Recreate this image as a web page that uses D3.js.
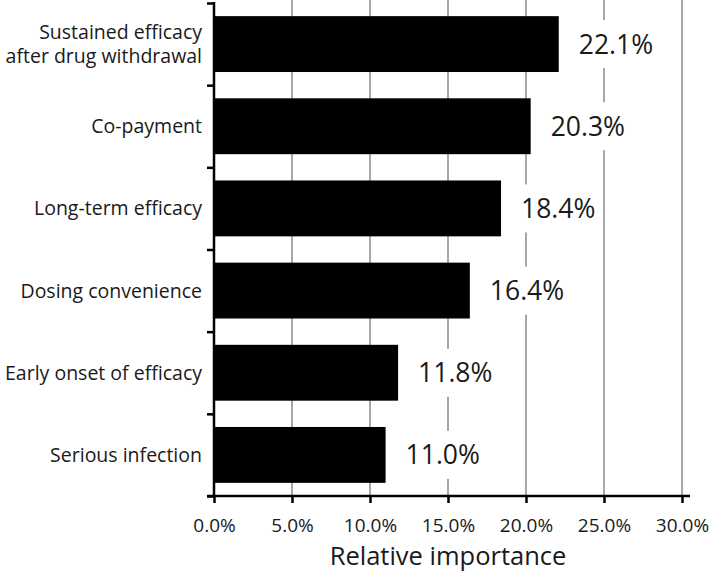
<!DOCTYPE html>
<html>
<head>
<meta charset="utf-8">
<script src="https://cdn.jsdelivr.net/npm/d3@7"></script>
<style>
  body { margin: 0; background: #fff; }
  text { font-family: 'Open Sans', sans-serif; fill: #1a1a1a; }
</style>
</head>
<body>
<div id="plot_area"></div>
<script>
// Chart size
const w = 709;
const h = 572;

// Data
const categories = [
    ['Sustained efficacy', 'after drug withdrawal'],
    ['Co-payment'],
    ['Long-term efficacy'],
    ['Dosing convenience'],
    ['Early onset of efficacy'],
    ['Serious infection']
];
const values = [22.1, 20.3, 18.4, 16.4, 11.8, 11.0];
const xTicks = [0, 5, 10, 15, 20, 25, 30];

const data = categories.map((c, i) => ({ label: c, value: values[i], idx: i }));

// Scales
const xScale = d3.scaleLinear()
                .domain([0, 30])
                .range([214, 682]);

const yScale = d3.scaleBand()
                .domain(d3.range(categories.length))
                .range([3, 496])
                .paddingInner(0.32)
                .paddingOuter(0.16);

// boundary scale for the y-axis ticks between categories
const yEdge = d3.scaleLinear()
                .domain([0, categories.length])
                .range([3, 496]);

const svg = d3.select('#plot_area')
            .append('svg')
            .attr('width', w)
            .attr('height', h);

// Vertical gridlines
svg.selectAll('.grid')
   .data(xTicks.slice(1))
   .enter()
   .append('line')
   .attr('x1', (d) => xScale(d))
   .attr('x2', (d) => xScale(d))
   .attr('y1', 0)
   .attr('y2', 496)
   .attr('stroke', '#8a8a8a')
   .attr('stroke-width', 1.5);

// Bars
svg.selectAll('.bar')
   .data(data)
   .enter()
   .append('rect')
   .attr('x', xScale(0))
   .attr('y', (d) => yScale(d.idx))
   .attr('width', (d) => xScale(d.value) - xScale(0))
   .attr('height', yScale.bandwidth())
   .attr('fill', '#000');

// Value labels with white background
const lab = svg.selectAll('.vlab')
   .data(data)
   .enter()
   .append('g');

lab.append('rect')
   .attr('x', (d) => xScale(d.value) + 14)
   .attr('y', (d) => yScale(d.idx) + yScale.bandwidth() / 2 - 24)
   .attr('width', 88)
   .attr('height', 48)
   .attr('fill', '#fff');

lab.append('text')
   .attr('x', (d) => xScale(d.value) + 20)
   .attr('y', (d) => yScale(d.idx) + yScale.bandwidth() / 2)
   .attr('dy', '0.36em')
   .style('font-size', '26.5px')
   .text((d) => d.value.toFixed(1) + '%');

// Category labels
const cl = svg.selectAll('.clab')
   .data(data)
   .enter()
   .append('text')
   .attr('text-anchor', 'end')
   .style('font-size', '19.5px');

cl.each(function (d) {
    const t = d3.select(this);
    const cy = yScale(d.idx) + yScale.bandwidth() / 2;
    const n = d.label.length;
    d.label.forEach(function (line, k) {
        t.append('tspan')
         .attr('x', 202)
         .attr('y', cy + (k - (n - 1) / 2) * 24.5)
         .attr('dy', '0.36em')
         .text(line);
    });
});

// y-axis
const yAxis = svg.append('g')
   .attr('transform', 'translate(' + xScale(0) + ',0)')
   .call(d3.axisLeft(yEdge)
           .tickValues(d3.range(categories.length + 1))
           .tickFormat('')
           .tickSize(7)
           .tickSizeOuter(0));
yAxis.select('.domain').remove();
yAxis.selectAll('line').attr('stroke', '#000').attr('stroke-width', 2.5);
yAxis.append('line')
     .attr('x1', 0).attr('x2', 0)
     .attr('y1', 2).attr('y2', 497)
     .attr('stroke', '#000')
     .attr('stroke-width', 2.5);

// x-axis
const xAxis = svg.append('g')
   .attr('transform', 'translate(0,496)')
   .call(d3.axisBottom(xScale)
           .tickValues(xTicks)
           .tickFormat((d) => d.toFixed(1) + '%')
           .tickSize(7)
           .tickSizeOuter(0));
xAxis.select('.domain').remove();
xAxis.selectAll('line').attr('stroke', '#000').attr('stroke-width', 2.5);
xAxis.selectAll('text')
     .attr('y', 29)
     .attr('dy', '0.36em')
     .style('font-size', '19px')
     .style('font-family', "'Open Sans', sans-serif")
     .attr('fill', '#1a1a1a');
xAxis.append('line')
     .attr('x1', 207).attr('x2', 690)
     .attr('y1', 0).attr('y2', 0)
     .attr('stroke', '#000')
     .attr('stroke-width', 2.5);

// x-axis label
svg.append('text')
   .attr('x', (xScale(0) + xScale(30)) / 2)
   .attr('y', 565)
   .attr('text-anchor', 'middle')
   .style('font-size', '25.5px')
   .text('Relative importance');
</script>
</body>
</html>
